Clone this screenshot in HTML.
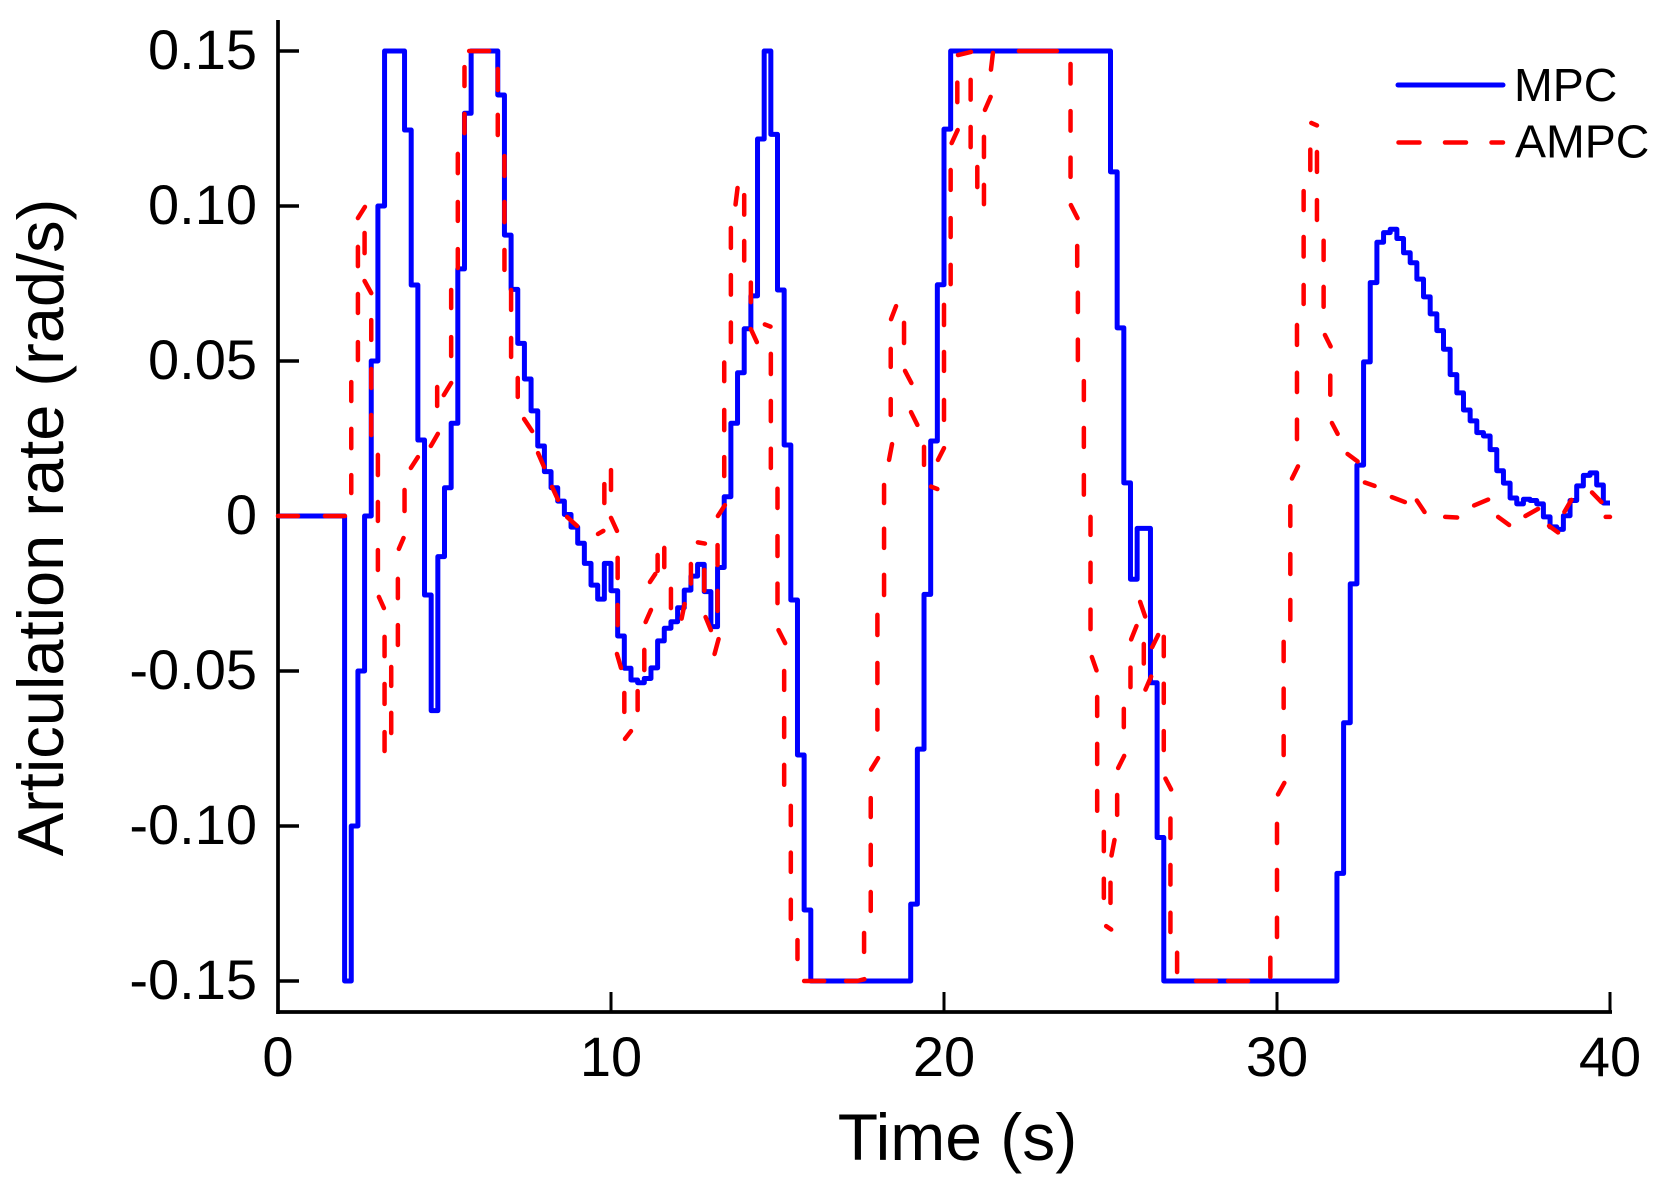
<!DOCTYPE html>
<html lang="en">
<head>
<meta charset="utf-8">
<title>Articulation rate: MPC vs AMPC</title>
<style>
  html, body { margin: 0; padding: 0; background: #fff; }
  svg { display: block; font-family: "Liberation Sans", Arial, sans-serif; }
</style>
</head>
<body>
<svg id="chart" xmlns="http://www.w3.org/2000/svg" width="1667" height="1187" viewBox="0 0 1667 1187">
  <rect x="0" y="0" width="1667" height="1187" fill="#fff"/>
  <g id="axes"></g>
  <g id="series"></g>
  <text transform="translate(63 527.5) rotate(-90)" text-anchor="middle" font-size="65" fill="#000">Articulation rate (rad/s)</text>
  <text x="957.5" y="1160" text-anchor="middle" font-size="66" fill="#000">Time (s)</text>
  <g>
    <line x1="1398" y1="85" x2="1503" y2="85" stroke="#0000ff" stroke-width="5" stroke-linecap="round"/>
    <text x="1514" y="101" font-size="46.5" fill="#000">MPC</text>
    <line x1="1398.5" y1="142.5" x2="1503" y2="142.5" stroke="#ff0000" stroke-width="4.5" stroke-linecap="round" stroke-dasharray="21 25.5"/>
    <text x="1515" y="157.5" font-size="46.5" fill="#000">AMPC</text>
  </g>
</svg>
<script>
const xTicks = [0, 10, 20, 30, 40];
const xTickLabels = ['0', '10', '20', '30', '40'];
const yTicks = [0.15, 0.10, 0.05, 0, -0.05, -0.10, -0.15];
const yTickLabels = ['0.15', '0.10', '0.05', '0', '-0.05', '-0.10', '-0.15'];

const mpcSampleTime = 0.2;
const mpcValues = [
  0,0,0,0,0,0,0,0,0,0,
  -.15,-.1,-.05,0,.05,.1,.15,.15,.15,.1245,
  .0745,.0245,-.0255,-.0628,-.0131,.0091,.0299,.0797,.1299,.15,
  .15,.15,.15,.1358,.0906,.0731,.0557,.0442,.0339,.0226,
  .0143,.0091,.0048,.0005,-.0036,-.0088,-.0153,-.0223,-.0268,-.0153,
  -.0241,-.0387,-.0491,-.0529,-.0538,-.0524,-.049,-.0403,-.0362,-.0341,
  -.0296,-.0239,-.0194,-.0156,-.0244,-.0357,-.0166,.0062,.0299,.0462,
  .0604,.071,.1216,.15,.1231,.0729,.0229,-.0271,-.0771,-.1271,
  -.15,-.15,-.15,-.15,-.15,-.15,-.15,-.15,-.15,-.15,
  -.15,-.15,-.15,-.15,-.15,-.1252,-.0752,-.0253,.0242,.0746,
  .1248,.15,.15,.15,.15,.15,.15,.15,.15,.15,
  .15,.15,.15,.15,.15,.15,.15,.15,.15,.15,
  .15,.15,.15,.15,.15,.111,.0607,.0107,-.0204,-.004,
  -.004,-.0538,-.1037,-.15,-.15,-.15,-.15,-.15,-.15,-.15,
  -.15,-.15,-.15,-.15,-.15,-.15,-.15,-.15,-.15,-.15,
  -.15,-.15,-.15,-.15,-.15,-.15,-.15,-.15,-.15,-.1153,
  -.0667,-.0219,.0164,.0497,.0753,.0883,.0914,.0925,.0895,.0849,
  .0817,.0764,.0707,.0652,.0598,.0538,.0456,.0397,.0342,.0307,
  .0269,.0258,.0214,.0146,.0106,.0058,.0039,.0054,.005,.0039,
  -.0003,-.0035,-.0043,.0001,.005,.0097,.0131,.0139,.01,.0042
];

const ampcTimeRuns = [
  [0,.6],[1.41,2.01],[2.2,2.2],[2.2,2.2],[2.2,2.2],[2.4,2.4],[2.4,2.4],[2.4,2.4],[2.4,2.61],[2.6,2.6],
  [2.6,2.8],[2.8,2.8],[2.8,2.8],[2.8,2.8],[3,3],[3,3],[3,3],[3.03,3.18],[3.2,3.2],[3.2,3.2],
  [3.2,3.2],[3.4,3.4],[3.4,3.4],[3.6,3.6],[3.6,3.6],[3.63,3.77],[3.8,3.8],[3.99,4.2],[4.59,4.8],[4.78,4.78],
  [4.98,5.2],[5.2,5.2],[5.2,5.2],[5.4,5.4],[5.4,5.4],[5.4,5.4],[5.6,5.6],[5.6,5.6],[5.74,6.34],[6.6,6.6],
  [6.6,6.6],[6.8,6.8],[6.8,6.8],[6.8,6.8],[7,7],[7,7],[7.2,7.2],[7.39,7.63],[7.81,7.99],[8.23,8.41],
  [8.68,8.98],[9.61,9.77],[9.8,9.8],[10,10],[10,10.18],[10.2,10.2],[10.2,10.2],[10.18,10.3],[10.4,10.4],[10.42,10.6],
  [10.8,10.8],[11,11],[11.04,11.2],[11.17,11.33],[11.4,11.4],[11.6,11.6],[11.8,11.8],[12.12,12.21],[12.4,12.4],[12.61,12.82],
  [12.8,12.8],[12.84,13],[13.11,13.23],[13.2,13.2],[13.2,13.2],[13.21,13.42],[13.4,13.4],[13.4,13.4],[13.4,13.4],[13.6,13.6],
  [13.6,13.6],[13.6,13.6],[13.74,13.8],[14,14],[14,14],[14.2,14.2],[14.2,14.38],[14.62,14.79],[14.8,14.8],[14.8,14.8],
  [14.8,14.8],[15,15],[15,15],[15,15],[15.03,15.23],[15.2,15.2],[15.2,15.2],[15.2,15.2],[15.4,15.4],[15.4,15.4],
  [15.4,15.4],[15.6,15.6],[15.8,16.4],[17.06,17.39,17.61],[17.6,17.6],[17.8,17.8],[17.8,17.8],[17.8,17.8],[17.81,18.02],[18,18],
  [18,18],[18,18],[18.2,18.2],[18.2,18.2],[18.2,18.2],[18.35,18.44],[18.4,18.4],[18.4,18.4],[18.41,18.56],[18.8,18.8],
  [18.83,19.02],[19.01,19.2],[19.4,19.4],[19.61,19.8],[19.82,20],[20,20],[20,20],[20,20],[20.2,20.2],[20.2,20.2],
  [20.2,20.2],[20.23,20.41],[20.4,20.4],[20.42,20.81],[20.8,20.8],[20.8,20.8],[21,21],[21.2,21.2],[21.2,21.2],[21.23,21.4],
  [21.41,21.47],[22.25,23.39],[23.8,23.8],[23.8,23.8],[23.8,23.8],[23.81,24.01],[24,24],[24.02,24.02],[24.02,24.02],[24.2,24.2],
  [24.2,24.2],[24.2,24.2],[24.4,24.4],[24.4,24.4],[24.4,24.4],[24.44,24.58],[24.6,24.6],[24.6,24.6],[24.6,24.6],[24.8,24.8],
  [24.8,24.8],[24.87,25.02],[25,25],[25.03,25.12],[25.2,25.2],[25.23,25.41],[25.4,25.4],[25.6,25.6],[25.62,25.78],[25.89,26.04],
  [26,26],[26.05,26.22],[26.25,26.43],[26.6,26.6],[26.6,26.6],[26.6,26.6],[26.65,26.82],[26.8,26.8],[26.8,26.8],[26.8,26.8],
  [27,27],[27.57,28.17],[28.53,29.13],[29.8,29.8],[30,30],[30,30],[30,30],[30.03,30.22],[30.2,30.2],[30.2,30.2],
  [30.2,30.2],[30.4,30.4],[30.4,30.4],[30.4,30.4],[30.45,30.63],[30.6,30.6],[30.6,30.6],[30.6,30.6],[30.8,30.8],[30.8,30.8],
  [30.8,30.8],[31,31],[31.03,31.2],[31.2,31.2],[31.2,31.2],[31.4,31.4],[31.4,31.4],[31.44,31.61],[31.6,31.6],[31.65,31.82],
  [32.12,32.42],[32.64,32.93],[33.45,33.84],[34.2,34.43],[35.05,35.41],[35.92,36.34],[36.64,36.97],[37.46,37.84],[38.17,38.44],[38.63,38.84],
  [39.46,39.74],[39.87,40]
];
const ampcValueRuns = [
  [0,0],[0,0],[.0074,.0132],[.0219,.0281],[.0371,.0432],[.0503,.0561],[.0655,.0716],[.0806,.0868],[.0961,.0997],[.0848,.0913],
  [.0758,.0719],[.0632,.0568],[.0474,.0413],[.0326,.0261],[.0197,.0132],[.0045,-.0016],[-.011,-.0174],[-.0261,-.0297],[-.039,-.0452],[-.0542,-.0606],
  [-.0697,-.0758],[-.07,-.0635],[-.0548,-.0487],[-.0416,-.0352],[-.0265,-.0203],[-.0106,-.0071],[.0016,.0084],[.0155,.019],[.0226,.0265],[.0355,.0416],
  [.039,.0429],[.0516,.0577],[.0671,.0729],[.08,.0861],[.0952,.1013],[.1106,.1168],[.1235,.1297],[.1387,.1448],[.15,.15],[.1442,.1374],
  [.1294,.1229],[.1161,.1097],[.1013,.0948],[.0858,.0794],[.0729,.0665],[.0574,.0513],[.0445,.0384],[.0313,.0274],[.0203,.0158],[.0094,.0052],
  [-.0003,-.0032],[-.0058,-.0048],[.0042,.0103],[.0148,.0084],[-.0006,-.0048],[-.0135,-.02],[-.0287,-.0352],[-.0445,-.049],[-.0571,-.0632],[-.0719,-.0694],
  [-.0626,-.0565],[-.0497,-.0432],[-.0342,-.0303],[-.0213,-.0187],[-.0177,-.0126],[-.0103,-.0165],[-.0235,-.0297],[-.0331,-.0284],[-.0218,-.0155],[-.0085,-.0089],
  [-.0174,-.0241],[-.0326,-.0368],[-.0445,-.0397],[-.0306,-.0242],[-.0158,-.0094],[0,.0035],[.0129,.019],[.0277,.0342],[.0435,.0495],[.0561,.0624],
  [.0714,.0777],[.0865,.0929],[.1005,.1058],[.1035,.0972],[.0887,.0824],[.0753,.069],[.0603,.0561],[.0618,.0611],[.0523,.0458],[.0371,.0306],
  [.0217,.0155],[.0088,.0026],[-.0065,-.0129],[-.0218,-.0281],[-.0368,-.041],[-.05,-.0561],[-.0652,-.0713],[-.0803,-.0867],[-.0935,-.0997],[-.1086,-.1148],
  [-.1238,-.13],[-.1368,-.1429],[-.15,-.15],[-.15,-.15,-.1494],[-.1406,-.1345],[-.1274,-.1213],[-.1126,-.1061],[-.0971,-.091],[-.0818,-.0781],[-.0689,-.0626],
  [-.0539,-.0474],[-.0384,-.0319],[-.0255,-.019],[-.0103,-.0041],[.0042,.01],[.0181,.0232],[.0326,.0377],[.0481,.0539],[.0635,.0677],[.0623,.0558],
  [.0468,.0429],[.0335,.0294],[.0223,.0165],[.0095,.0087],[.0181,.0219],[.031,.0374],[.0468,.0529],[.0616,.0681],[.0748,.081],[.09,.0961],
  [.1052,.1116],[.1203,.1245],[.1335,.1398],[.1487,.1497],[.1407,.1343],[.1255,.119],[.1126,.1061],[.1006,.1068],[.1158,.1223],[.131,.1352],
  [.144,.1494],[.15,.15],[.1458,.1395],[.1306,.1243],[.1156,.1094],[.1003,.0961],[.0871,.0807],[.072,.0658],[.0569,.0503],[.0435,.0374],
  [.0284,.0223],[.0132,.0069],[-.0003,-.0061],[-.0151,-.0213],[-.0302,-.0365],[-.0455,-.0498],[-.0584,-.0645],[-.0735,-.08],[-.0887,-.0951],[-.1019,-.1081],
  [-.117,-.1232],[-.1323,-.1334],[-.1248,-.1183],[-.1095,-.1045],[-.0964,-.09],[-.0813,-.0774],[-.0681,-.0622],[-.0552,-.0489],[-.0398,-.0355],[-.0277,-.0324],
  [-.0413,-.0476],[-.056,-.0518],[-.0423,-.0384],[-.039,-.0452],[-.0541,-.0603],[-.0694,-.0755],[-.0847,-.0882],[-.0976,-.1039],[-.1126,-.1189],[-.128,-.1342],
  [-.1409,-.1471],[-.15,-.15],[-.15,-.15],[-.1487,-.1425],[-.1358,-.1296],[-.1206,-.1142],[-.1055,-.0993],[-.0898,-.0861],[-.0771,-.071],[-.0619,-.0557],
  [-.0468,-.0406],[-.0335,-.0271],[-.0187,-.0123],[-.0032,.0032],[.0121,.016],[.0248,.0311],[.04,.0462],[.0552,.0616],[.0684,.0745],[.0837,.09],
  [.0987,.1048],[.1116,.1182],[.1268,.126],[.1174,.111],[.1019,.0955],[.0888,.0826],[.0739,.0675],[.0584,.0547],[.0453,.0391],[.03,.0265],
  [.02,.0176],[.0108,.0097],[.0061,.0045],[.005,.0013],[-.0003,-.0005],[.0034,.0053],[-.0003,-.0029],[0,.0023],[-.0032,-.0053],[.0013,.0052],
  [.0076,.0045],[-.0003,-.0003]
];

const SVG_NS = 'http://www.w3.org/2000/svg';
const axisLeft = 278, axisBottom = 1012, axisTop = 20, axisRight = 1610.5;

function xScale(t) { return 278 + 33.3 * t; }
function yScale(v) { return 516 - 3100 * v; }
function make(tag, parent, attrs, text) {
  const el = document.createElementNS(SVG_NS, tag);
  for (const k in attrs) el.setAttribute(k, attrs[k]);
  if (text !== undefined) el.textContent = text;
  parent.appendChild(el);
  return el;
}

const axes = document.getElementById('axes');
const series = document.getElementById('series');

/* MPC: zero-order-hold staircase */
let mpcD = 'M' + xScale(0) + ' ' + yScale(mpcValues[0]);
mpcValues.forEach(function (v, k) {
  mpcD += 'L' + xScale(k * mpcSampleTime).toFixed(2) + ' ' + yScale(v).toFixed(2);
  mpcD += 'L' + xScale((k + 1) * mpcSampleTime).toFixed(2) + ' ' + yScale(v).toFixed(2);
});
const mpcLine = make('path', series, { d: mpcD, fill: 'none', stroke: '#0000ff', 'stroke-width': 5, 'stroke-linejoin': 'round', 'stroke-linecap': 'butt' });



/* AMPC: dashed line, one sub-path per dash run */
let ampcD = '';
ampcTimeRuns.forEach(function (run, r) {
  run.forEach(function (t, i) {
    ampcD += (i ? 'L' : 'M') + xScale(t).toFixed(2) + ' ' + yScale(ampcValueRuns[r][i]).toFixed(2);
  });
});
const ampcLine = make('path', series, { d: ampcD, fill: 'none', stroke: '#ff0000', 'stroke-width': 4.5, 'stroke-linejoin': 'round', 'stroke-linecap': 'round' });



/* Axis lines */
const yAxisLine = make('line', axes, { x1: axisLeft, y1: axisTop, x2: axisLeft, y2: axisBottom + 2, stroke: '#000', 'stroke-width': 3.7 });


const xAxisLine = make('line', axes, { x1: axisLeft - 1.8, y1: axisBottom, x2: axisRight + 1.5, y2: axisBottom, stroke: '#000', 'stroke-width': 3.7 });



/* Y ticks and labels */
yTicks.forEach(function (v, i) {
  const tick = make('line', axes, { x1: axisLeft, y1: yScale(v), x2: axisLeft + 21, y2: yScale(v), stroke: '#000', 'stroke-width': 3.4 });
  
  
  const label = make('text', axes, { x: 257, y: yScale(v) + 18, 'text-anchor': 'end', 'font-size': 56, fill: '#000' }, yTickLabels[i]);
  
  
});

/* X ticks and labels */
xTicks.forEach(function (t, i) {
  const tick = make('line', axes, { x1: xScale(t), y1: axisBottom, x2: xScale(t), y2: axisBottom - 20, stroke: '#000', 'stroke-width': 3 });
  
  
  const label = make('text', axes, { x: xScale(t), y: 1076, 'text-anchor': 'middle', 'font-size': 56, fill: '#000' }, xTickLabels[i]);
  
  
});
</script>
</body>
</html>
